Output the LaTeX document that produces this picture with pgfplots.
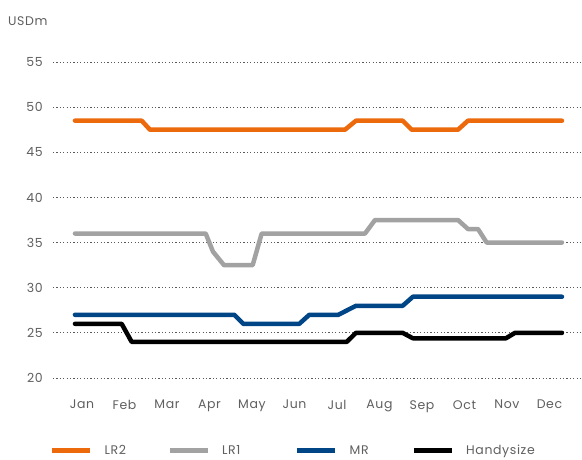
\documentclass[border=0pt]{standalone}
\usepackage{fontspec}
\setmainfont{Poppins}[LetterSpace=5]
\usepackage{pgfplots}
\pgfplotsset{compat=1.18}
\usepackage{pgfplotstable}
\definecolor{cLRtwo}{RGB}{236,106,12}
\definecolor{cLRone}{RGB}{162,162,162}
\definecolor{cMR}{RGB}{0,70,135}
\definecolor{cHS}{RGB}{0,0,0}
\definecolor{txt}{RGB}{95,95,95}
\definecolor{gridc}{RGB}{90,90,90}

\pgfplotstableread{
x y
0.835 48.5
2.405 48.5
2.6 47.5
7.188 47.5
7.447 48.5
8.546 48.5
8.758 47.5
9.847 47.5
10.082 48.5
12.294 48.5
}\lrtwo
\pgfplotstableread{
x y
0.835 36
3.911 36
4.082 34
4.341 32.5
5.016 32.5
5.228 36
7.659 36
7.894 37.5
9.847 37.5
10.082 36.5
10.318 36.5
10.522 35
12.294 35
}\lrone
\pgfplotstableread{
x y
0.835 27
4.584 27
4.795 26
6.113 26
6.348 27
7.031 27
7.447 28
8.546 28
8.786 29
12.294 29
}\mr
\pgfplotstableread{
x y
0.835 26
1.934 26
2.169 24
7.228 24
7.447 25
8.546 25
8.786 24.4
10.976 24.4
11.188 25
12.294 25
}\hs

\begin{document}
\begin{tikzpicture}
\useasboundingbox (-53pt,-81pt) rectangle (529pt,378pt);
\begin{axis}[
  scale only axis,
  width=529pt, height=316pt,
  xmin=0.318, xmax=12.765,
  ymin=20, ymax=55,
  axis line style={draw=none},
  major tick length=0pt,
  xtick={1,2,3,4,5,6,7,8,9,10,11,12},
  xticklabels={Jan,Feb,Mar,Apr,May,Jun,Jul,Aug,Sep,Oct,Nov,Dec},
  ytick={20,25,30,35,40,45,50,55},
  ymajorgrids,
  grid style={gridc, line width=0.9pt, dash pattern=on 1.2pt off 2.2pt},
  /pgf/number format/assume math mode=true,
  tick label style={font=\fontsize{12.5}{15}\selectfont, text=txt, inner sep=0pt},
  xticklabel style={anchor=north, yshift=-22pt},
  yticklabel style={anchor=east, xshift=-10pt},
  legend style={at={(axis description cs:-0.0057,-0.230)}, anchor=west,
    draw=none, fill=none, inner sep=0pt, legend columns=4,
    font=\fontsize{12.5}{15}\selectfont, text=txt,
    nodes={inner sep=0pt},
    /tikz/every odd column/.append style={column sep=12pt}},
  legend image code/.code={\draw[#1, line width=4.5pt, line cap=butt] (0pt,0pt) -- (38pt,0pt);},
  every axis plot/.append style={line width=4.5pt, line cap=round, line join=round},
]
\addplot[cLRtwo] table[x=x,y=y] {\lrtwo};
\addlegendentry{\makebox[63pt][l]{LR2}}
\addplot[cLRone] table[x=x,y=y] {\lrone};
\addlegendentry{\makebox[73pt][l]{LR1}}
\addplot[cMR] table[x=x,y=y] {\mr};
\addlegendentry{\makebox[62pt][l]{MR}}
\addplot[cHS] table[x=x,y=y] {\hs};
\addlegendentry{Handysize}
\end{axis}
\node[anchor=west, inner sep=0pt, text=txt, font=\fontsize{12.5}{15}\selectfont] at (-45pt,357pt) {USDm};
\end{tikzpicture}
\end{document}
